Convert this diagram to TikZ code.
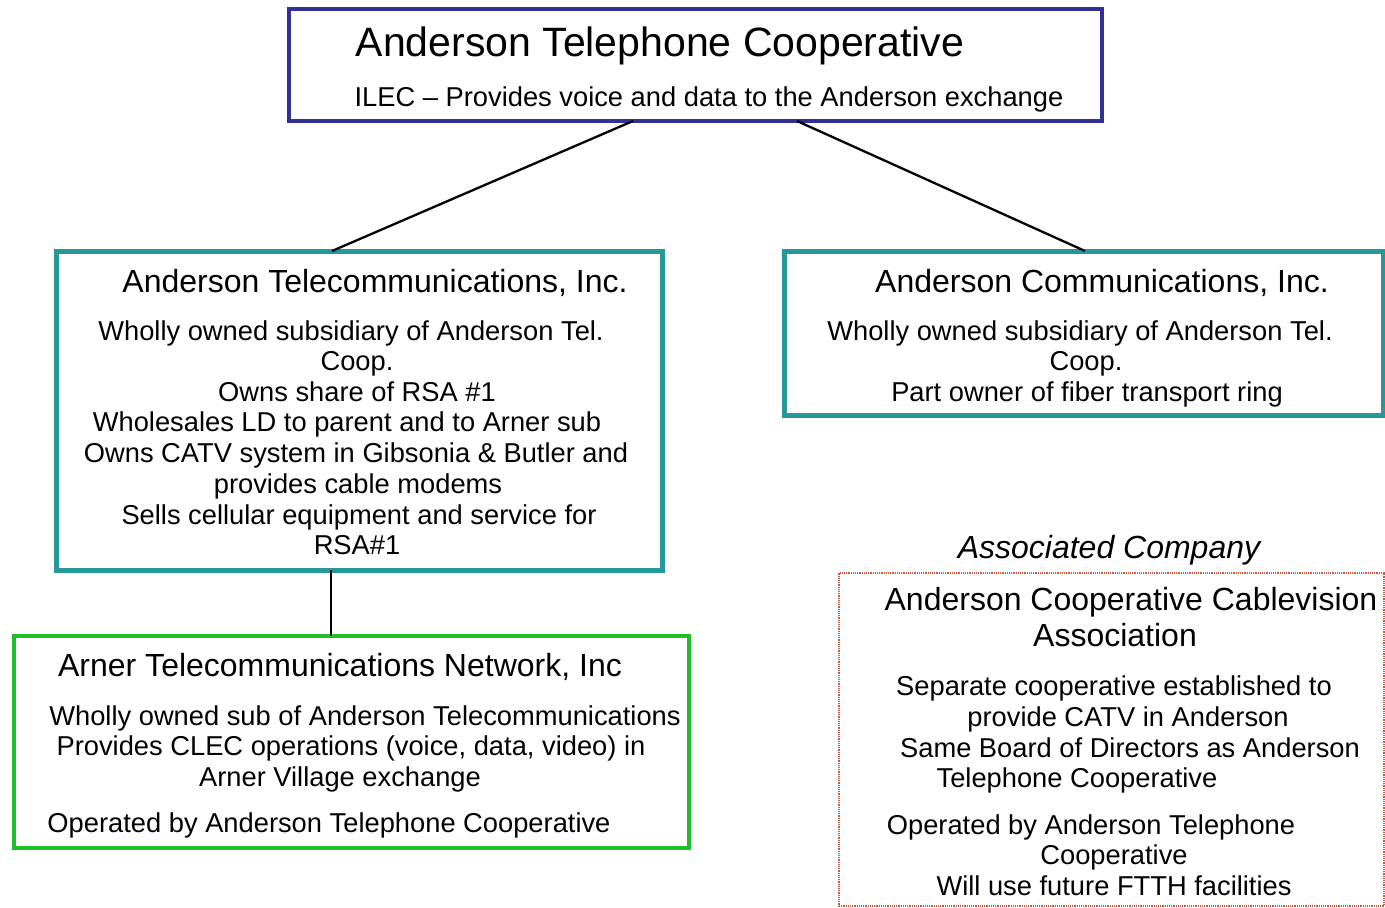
\documentclass[tikz,border=0pt]{standalone}
\usepackage{fontspec}
\setmainfont{Liberation Sans}
\usetikzlibrary{calc}
\definecolor{navyb}{RGB}{50,48,150}
\definecolor{tealb}{RGB}{38,152,152}
\definecolor{greenb}{RGB}{34,190,40}
\definecolor{redb}{RGB}{200,90,60}
\tikzset{
  box/.style={draw, rectangle, anchor=north west, inner sep=0pt, outer sep=0pt},
  big/.style={anchor=base, inner sep=0pt, font=\fontsize{41}{46}\selectfont},
  sub/.style={anchor=base, inner sep=0pt, font=\fontsize{32}{36}\selectfont},
  body/.style={anchor=base, inner sep=0pt, font=\fontsize{27.3}{30.7}\selectfont},
  link/.style={draw=black, line width=2.3}
}
\begin{document}
\begin{tikzpicture}[x=1pt,y=-1pt]
\useasboundingbox[fill=white] (0,0) rectangle (1385,908);
% boxes
\node[box, draw=navyb, line width=4, minimum width=813, minimum height=112] (top) at (289,9) {};
\node[box, draw=tealb, line width=5, minimum width=606, minimum height=319] (ati) at (56,251) {};
\node[box, draw=tealb, line width=5, minimum width=599, minimum height=164] (aci) at (784,251) {};
\node[box, draw=greenb, line width=4.5, minimum width=675, minimum height=212] (atn) at (14,636) {};
\node[box, draw=redb, line width=1.2, densely dotted, minimum width=545, minimum height=333] (acc) at (839,573) {};
% connectors
\draw[link] ($(top.south west)+(344,0)$) -- ($(ati.north west)+(276,0)$);
\draw[link] ($(top.south west)+(508,0)$) -- ($(aci.north west)+(301,0)$);
\draw[link] ($(ati.south west)+(275,0)$) -- ($(atn.north west)+(317,0)$);
% top texts
\node[big] (t1) at (660,56) {Anderson Telephone Cooperative};
\node[body] (t2) at (709,106) {ILEC – Provides voice and data to the Anderson exchange};
% left box
\node[sub] (a0) at (375,292) {Anderson Telecommunications, Inc.};
\node[body] (a1) at (351,340) {Wholly owned subsidiary of Anderson Tel.};
\node[body] (a2) at (357,370) {Coop.};
\node[body] (a3) at (357,401) {Owns share of RSA \#1};
\node[body] (a4) at (347,431) {Wholesales LD to parent and to Arner sub};
\node[body] (a5) at (356,462) {Owns CATV system in Gibsonia \& Butler and};
\node[body] (a6) at (358,493) {provides cable modems};
\node[body] (a7) at (359,524) {Sells cellular equipment and service for};
\node[body] (a8) at (357,554) {RSA\#1};
% right box
\node[sub] (b0) at (1102,292) {Anderson Communications, Inc.};
\node[body] (b1) at (1080,340) {Wholly owned subsidiary of Anderson Tel.};
\node[body] (b2) at (1086,370) {Coop.};
\node[body] (b3) at (1087,401) {Part owner of fiber transport ring};
% associated
\node[sub, font=\fontsize{32}{36}\selectfont\itshape] (asc) at (1109,558) {Associated Company};
\node[sub] (c0) at (1131,610) {Anderson Cooperative Cablevision};
\node[sub] (c1) at (1115,646) {Association};
\node[body] (c2) at (1114,695) {Separate cooperative established to};
\node[body] (c3) at (1128,726) {provide CATV in Anderson};
\node[body] (c4) at (1130,757) {Same Board of Directors as Anderson};
\node[body] (c5) at (1077,787) {Telephone Cooperative};
\node[body] (c6) at (1091,834) {Operated by Anderson Telephone};
\node[body] (c7) at (1114,864) {Cooperative};
\node[body] (c8) at (1114,895) {Will use future FTTH facilities};
% green box
\node[sub] (d0) at (340,676) {Arner Telecommunications Network, Inc};
\node[body] (d1) at (365,725) {Wholly owned sub of Anderson Telecommunications};
\node[body] (d2) at (351,755) {Provides CLEC operations (voice, data, video) in};
\node[body] (d3) at (340,786) {Arner Village exchange};
\node[body] (d4) at (329,832) {Operated by Anderson Telephone Cooperative};
\end{tikzpicture}
\end{document}
